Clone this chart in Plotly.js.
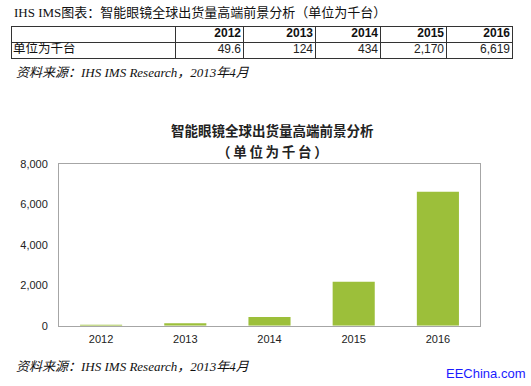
<!DOCTYPE html>
<html>
<head>
<meta charset="utf-8">
<script src="https://cdn.plot.ly/plotly-3.0.1.min.js"></script>
<style>html,body{margin:0;padding:0;background:#fff;}#chart{width:531px;height:386px;}</style>
</head>
<body>
<div id="chart"></div>
<script>
const years = ['2012', '2013', '2014', '2015', '2016'];
const shipments = [49.6, 124, 434, 2170, 6619];
const valueLabels = ['49.6', '124', '434', '2,170', '6,619'];
const rowLabel = '单位为千台';
const topTitle = 'IHS IMS图表：智能眼镜全球出货量高端前景分析（单位为千台）';
const chartTitle = '智能眼镜全球出货量高端前景分析';
const chartSubtitle = '（单位为千台）';
const sourceText = '资料来源：IHS IMS Research，2013年4月';
const watermark = 'EEChina.com';

const W = 531, H = 386;
const px = x => x / W;
const py = y => 1 - y / H;

const sans = 'Liberation Sans, Arial, sans-serif';
const serif = 'Liberation Serif, Noto Sans CJK SC, serif';
const cjk = 'Liberation Serif, Noto Sans CJK SC, sans-serif';

// table layout: column edges in table units (one unit = one pixel of table width)
const colEdges = [0, 163, 231, 303, 368, 434, 500];
const rowEdges = [0, 1, 2];

const bar = {
  type: 'bar',
  x: years,
  y: shipments,
  marker: {color: '#9cbf3a', line: {width: 0}},
  width: 0.5,
  hoverinfo: 'x+y',
  xaxis: 'x', yaxis: 'y'
};

const headerText = {
  type: 'scatter', mode: 'text',
  x: colEdges.slice(2).map(e => e - 2),
  y: years.map(() => 1.5),
  text: years.map(y => '<b>' + y + '</b>'),
  textposition: 'middle left',
  textfont: {family: sans, size: 12, color: '#111'},
  xaxis: 'x2', yaxis: 'y2', hoverinfo: 'skip'
};
const valueText = {
  type: 'scatter', mode: 'text',
  x: colEdges.slice(2).map(e => e - 2),
  y: valueLabels.map(() => 0.5),
  text: valueLabels,
  textposition: 'middle left',
  textfont: {family: sans, size: 12, color: '#222'},
  xaxis: 'x2', yaxis: 'y2', hoverinfo: 'skip'
};
const rowText = {
  type: 'scatter', mode: 'text',
  x: [colEdges[0] + 1],
  y: [0.5],
  text: [rowLabel],
  textposition: 'middle right',
  textfont: {family: cjk, size: 12.5, color: '#111'},
  xaxis: 'x2', yaxis: 'y2', hoverinfo: 'skip'
};

const spaced = (s, sp) => s.split('').join(sp);

const layout = {
  width: W, height: H,
  margin: {l: 0, r: 0, t: 0, b: 0},
  paper_bgcolor: '#fff', plot_bgcolor: 'rgba(0,0,0,0)',
  showlegend: false,
  xaxis: {
    domain: [px(59), px(480)],
    type: 'category',
    showline: true, mirror: true, linecolor: '#a6a6a6', linewidth: 1,
    showgrid: false, zeroline: false, ticks: '',
    tickfont: {family: sans, size: 11, color: '#222'},
    ticklabelstandoff: 3,
    fixedrange: true
  },
  yaxis: {
    domain: [py(325.7), py(163.7)],
    range: [0, 8000],
    dtick: 2000,
    tickformat: ',d',
    showline: true, mirror: true, linecolor: '#a6a6a6', linewidth: 1,
    showgrid: false, zeroline: false, ticks: '',
    tickfont: {family: sans, size: 11, color: '#222'},
    ticklabelstandoff: 8,
    fixedrange: true
  },
  xaxis2: {
    domain: [px(12), px(512)],
    range: [colEdges[0], colEdges[colEdges.length - 1]],
    anchor: 'y2',
    tickvals: colEdges, showticklabels: false, ticks: '',
    showgrid: true, gridcolor: '#333', gridwidth: 1,
    showline: true, mirror: true, linecolor: '#333', linewidth: 1,
    zeroline: false, fixedrange: true
  },
  yaxis2: {
    domain: [py(57.7), py(26.7)],
    range: [rowEdges[0], rowEdges[rowEdges.length - 1]],
    anchor: 'x2',
    tickvals: rowEdges, showticklabels: false, ticks: '',
    showgrid: true, gridcolor: '#333', gridwidth: 1,
    showline: true, mirror: true, linecolor: '#333', linewidth: 1,
    zeroline: false, fixedrange: true
  },
  annotations: [
    {text: topTitle, x: px(12), y: py(12), xref: 'paper', yref: 'paper', xanchor: 'left', yanchor: 'middle', showarrow: false, font: {family: serif, size: 13, color: '#111'}},
    {text: '<i>' + sourceText + '</i>', x: px(14), y: py(72), xref: 'paper', yref: 'paper', xanchor: 'left', yanchor: 'middle', showarrow: false, font: {family: serif, size: 13, color: '#111'}},
    {text: '<b>' + chartTitle + '</b>', x: px(272), y: py(131), xref: 'paper', yref: 'paper', xanchor: 'center', yanchor: 'middle', showarrow: false, font: {family: cjk, size: 13.5, color: '#222'}},
    {text: '<b>' + spaced(chartSubtitle, '\u2009') + '</b>', x: px(272), y: py(152), xref: 'paper', yref: 'paper', xanchor: 'center', yanchor: 'middle', showarrow: false, font: {family: cjk, size: 13.5, color: '#222'}},
    {text: '<i>' + sourceText + '</i>', x: px(14), y: py(366), xref: 'paper', yref: 'paper', xanchor: 'left', yanchor: 'middle', showarrow: false, font: {family: serif, size: 13, color: '#111'}},
    {text: watermark, x: px(527), y: py(373), xref: 'paper', yref: 'paper', xanchor: 'right', yanchor: 'middle', showarrow: false, font: {family: sans, size: 13, color: '#1a1aff'}}
  ]
};

Plotly.newPlot('chart', [bar, headerText, valueText, rowText], layout, {displayModeBar: false, staticPlot: true});
</script>
</body>
</html>
